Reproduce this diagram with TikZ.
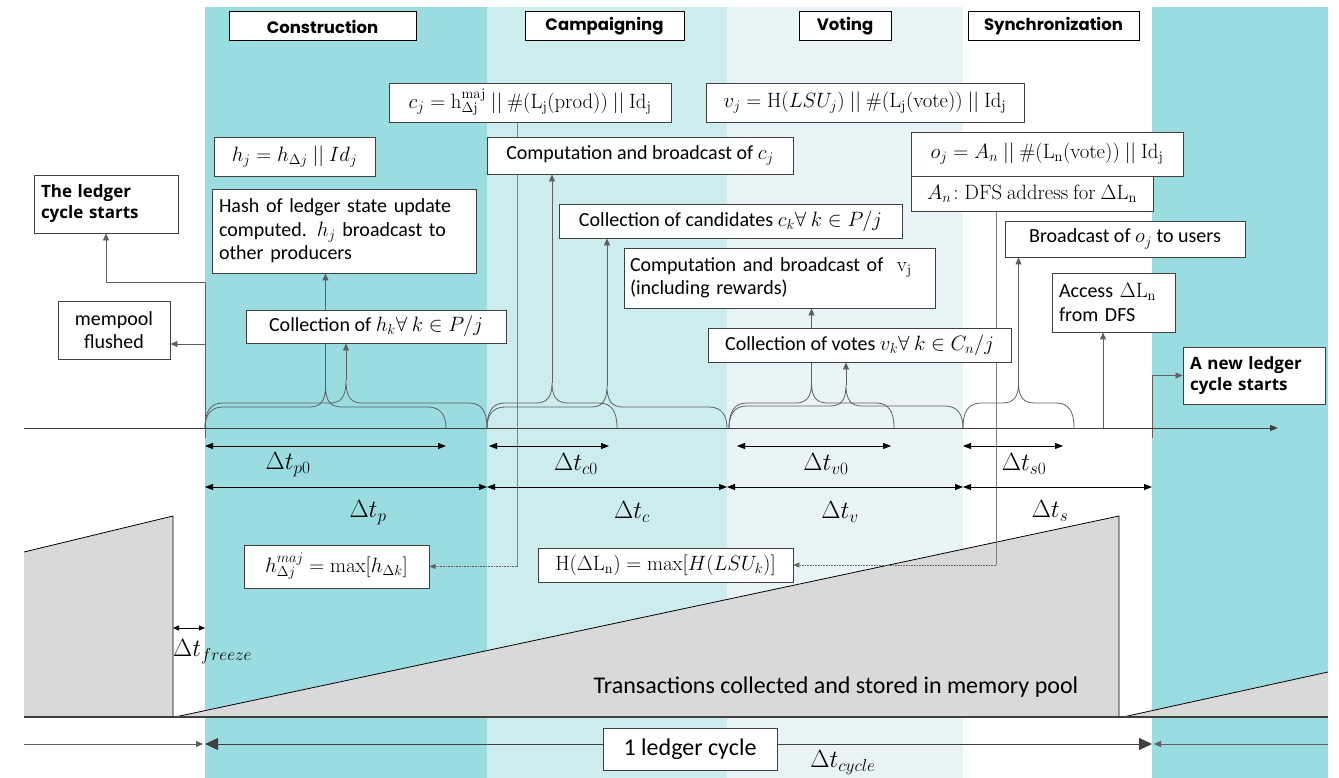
\documentclass[tikz,border=0pt]{standalone}
\usepackage[no-math]{fontspec}
\setmainfont{Carlito}
\newfontfamily\hdrfont{Poppins}
\newfontfamily\bldfont{Open Sans}
\usetikzlibrary{arrows.meta,calc}
\definecolor{bandA}{RGB}{155,220,225}
\definecolor{bandB}{RGB}{205,236,238}
\definecolor{bandC}{RGB}{233,244,246}
\definecolor{tri}{RGB}{217,217,217}
\definecolor{lnc}{RGB}{95,95,95}
\definecolor{boxc}{RGB}{64,64,64}
\pgfdeclarelayer{bg}
\pgfdeclarelayer{cn}
\pgfsetlayers{bg,cn,main}
\newcommand{\bodyf}{\fontsize{20}{23.5}\selectfont}
\newcommand{\mathf}{\fontsize{21.5}{25}\selectfont}
\newcommand{\dtf}{\fontsize{25}{29}\selectfont}
\newcommand{\mybrace}[5]{%
 \pgfmathsetmacro{\bm}{(#1+#2)/2}%
 \draw[brc] (#1,428) .. controls (#1,#3+9) and (#1+5,#3) .. (#1+18,#3)
   -- (\bm-16,#3) .. controls (\bm-5,#3) and (\bm,#3-6) .. (\bm,#4)
   .. controls (\bm,#3-6) and (\bm+5,#3) .. (\bm+16,#3)
   -- (#2-18,#3) .. controls (#2-5,#3) and (#2,#3+9) .. (#2,428);
 \coordinate (#5) at (\bm,#4);
}
\tikzset{
 bx/.style={draw=boxc, fill=white, line width=0.9pt, inner xsep=6pt, inner ysep=2pt, text=black, font=\bodyf},
 mbx/.style={bx, font=\mathf},
 hdr/.style={draw=black, fill=white, line width=1pt, inner sep=2pt, font=\hdrfont\bfseries\fontsize{16.5}{19}\selectfont},
 bbx/.style={bx, align=left, font=\bldfont\bfseries\fontsize{17}{21}\selectfont},
 brc/.style={draw=lnc, line width=0.8pt},
 conn/.style={draw=lnc, line width=0.8pt, -{Triangle[length=7pt,width=6pt]}},
 thinl/.style={draw=lnc!80, line width=0.6pt},
 dotl/.style={draw=lnc, line width=0.6pt, densely dotted, -{Triangle[length=6pt,width=5pt]}},
 dim/.style={draw=black, line width=0.8pt, {Triangle[length=8pt,width=6pt]}-{Triangle[length=8pt,width=6pt]}},
 sdim/.style={draw=black, line width=0.8pt, {Triangle[length=6pt,width=5pt]}-{Triangle[length=6pt,width=5pt]}},
 bigdim/.style={draw=boxc, line width=0.8pt, {Triangle[length=13pt,width=12pt]}-{Triangle[length=13pt,width=12pt]}},
 cyca/.style={draw=lnc, line width=0.8pt, -{Triangle[length=7pt,width=6pt]}},
 lbl/.style={inner sep=0pt, font=\dtf},
}
\begin{document}
\begin{tikzpicture}[x=1pt,y=-1pt]
\useasboundingbox (0,0) rectangle (1339,778);
\begin{pgfonlayer}{bg}
% bands
\fill[bandA] (205,7) rectangle (487,778);
\fill[bandB] (487,7) rectangle (727,778);
\fill[bandC] (727,7) rectangle (963,778);
\fill[bandA] (1152,7) rectangle (1328,778);
% memory pool triangles
\fill[tri] (24,552) -- (173,516) -- (173,717) -- (24,717) -- cycle;
\draw[black, line width=0.8pt] (24,552) -- (173,516) -- (173,717);
\fill[tri] (175,717) -- (1119,516) -- (1119,717) -- cycle;
\draw[black, line width=0.8pt] (175,717) -- (1119,516) -- (1119,717);
\fill[tri] (1123,717) -- (1328,672) -- (1328,717) -- cycle;
\draw[black, line width=0.8pt] (1123,717) -- (1328,672);
\draw[boxc, line width=2pt] (24,717) -- (1328,717);
\end{pgfonlayer}
\node[font=\fontsize{24}{28}\selectfont, inner sep=0pt] (txp) at (836,687) {Transactions collected and stored in memory pool};
% time axis
\coordinate (ax0) at (24,428);
\coordinate (ax1) at (1278,428);
\draw[boxc, line width=0.8pt, -{Triangle[length=8pt,width=6pt]}] (ax0) -- (ax1);
% braces
\mybrace{205}{446}{407}{386}{tP0}
\mybrace{205}{487}{403}{380}{tP}
\mybrace{487}{617}{403}{383}{tC0}
\mybrace{487}{727}{407}{386}{tC}
\mybrace{729}{894}{403}{383}{tV0}
\mybrace{729}{963}{406}{385}{tV}
\mybrace{963}{1074}{403}{383}{tS0}
% header boxes
\node[hdr, minimum width=187, minimum height=29] (hC) at (322.5,26.5) {Construction};
\node[hdr, minimum width=159, minimum height=29] (hCa) at (604.5,26.5) {Campaigning};
\node[hdr, minimum width=92, minimum height=29] (hV) at (845,26.5) {Voting};
\node[hdr, minimum width=171, minimum height=29] (hS) at (1053.5,26.5) {Synchronization};
% boxes
\node[mbx, minimum width=282, minimum height=39] (cjf) at (530,102.5) {$c_j = \mathrm{h}^{\mathrm{maj}}_{\Delta\mathrm{j}}\ ||\ \#(\mathrm{L_j(prod)})\ ||\ \mathrm{Id_j}$};
\node[mbx, minimum width=318, minimum height=39] (vjf) at (865,102.5) {$v_j = \mathrm{H}\big(LSU_j\big)\ ||\ \#(\mathrm{L_j(vote)})\ ||\ \mathrm{Id_j}$};
\node[mbx, minimum width=161, minimum height=39] (hjf) at (294.5,156.5) {$h_j = h_{\Delta j}\ ||\ Id_j$};
\node[bx, minimum width=306, minimum height=37] (cjb) at (640,155.5) {Computation and broadcast of $c_j$};
\node[mbx, minimum width=272, minimum height=44] (ojf) at (1047,154) {$o_j = A_n\ ||\ \#(\mathrm{L_n(vote)})\ ||\ \mathrm{Id_j}$};
\node[mbx, minimum width=242, minimum height=35] (anf) at (1032,193.5) {$A_n\!: \mathrm{DFS\ address\ for\ }\Delta\mathrm{L_n}$};
\node[bbx, minimum width=144, minimum height=58, text width=130] (ledger) at (106,204) {The ledger\\cycle starts};
\node[bx, minimum width=264, minimum height=84, text width=250, align=left] (hash) at (344,231) {Hash of ledger state update computed. $h_j$ broadcast to other producers};
\node[bx, minimum width=343, minimum height=34] (cand) at (730.5,221) {Collection of candidates $c_k\forall\ k\in P/j$};
\node[bx, minimum width=311, minimum height=60, text width=299, align=left] (vjb) at (779.5,278) {Computation and broadcast of \ $\mathrm{v_j}$\\(including rewards)};
\node[bx, minimum width=240, minimum height=36] (ojb) at (1125,239) {Broadcast of $o_j$ to users};
\node[bx, minimum width=123, minimum height=59, text width=109, align=left] (acc) at (1113.5,302.5) {Access $\Delta\mathrm{L_n}$\\from DFS};
\node[bx, minimum width=303, minimum height=34] (votes) at (859.5,345) {Collection of votes $v_k\forall\ k\in C_n/j$};
\node[bbx, minimum width=142, minimum height=57, text width=128] (newl) at (1254,375.5) {A new ledger\\cycle starts};
\node[bx, minimum width=112, minimum height=58, align=center] (mem) at (114,330) {mempool\\flushed};
\node[bx, minimum width=260, minimum height=33] (hk) at (376,326.5) {Collection of $h_k\forall\ k\in P/j$};
\node[mbx, minimum width=185, minimum height=43] (hmaj) at (336.5,566.5) {$h^{maj}_{\Delta j} = \max[h_{\Delta k}]$};
\node[mbx, minimum width=255, minimum height=34] (hdl) at (665.5,565) {$\mathrm{H}(\Delta\mathrm{L_n}) = \max[H(LSU_k)]$};
\node[bx, minimum width=174, minimum height=42, font=\fontsize{24}{28}\selectfont] (cyc) at (690,749) {1 ledger cycle};
% connectors (layer below the boxes)
\begin{pgfonlayer}{cn}
\draw[conn] (tP0) -- (tP0 |- hash.south);
\draw[conn] (tP) -- (tP |- hk.south);
\draw[conn] (tC0) -- (tC0 |- cjb.south);
\draw[conn] (tC) -- (tC |- cand.south);
\draw[conn] (tV0) -- (tV0 |- vjb.south);
\draw[conn] (tV) -- (tV |- votes.south);
\draw[conn] (tS0) -- (tS0 |- ojb.south);
\coordinate (av) at (1103,428);
\draw[conn] (av) -- (av |- acc.south);
\coordinate (lv) at (205,438);
\coordinate (lc) at (205,282);
\draw[conn] (lv) -- (lc) -| (ledger.south);
\coordinate (mf) at (205,344);
\draw[conn] (mf) -- (mf -| mem.east);
\coordinate (rv) at (1152,438);
\draw[conn] (rv) |- (newl.west);
\coordinate (cjl) at (517,566.5);
\draw[thinl] (cjf.south -| cjl) -- (cjl);
\draw[dotl] (cjl) -- (hmaj.east);
\coordinate (anl) at (996,565);
\draw[thinl] (anf.south -| anl) -- (anl);
\draw[dotl] (anl) -- (hdl.east);
% bottom cycle arrows
\coordinate (b0) at (24,744);
\coordinate (b1) at (203,744);
\coordinate (b2) at (205,744);
\coordinate (b3) at (1152,744);
\coordinate (b4) at (1154,744);
\coordinate (b5) at (1328,744);
\draw[cyca] (b0) -- (b1);
\draw[bigdim] (b2) -- (b3);
\draw[cyca] (b5) -- (b4);
\end{pgfonlayer}
% dimension lines
\draw[dim] (205,446) -- (446,446);
\draw[dim] (489,446) -- (609,446);
\draw[dim] (737,446) -- (891,446);
\draw[dim] (963,446) -- (1063,446);
\draw[dim] (205,487) -- (487,487);
\draw[dim] (487,487) -- (727,487);
\draw[dim] (727,487) -- (963,487);
\draw[dim] (963,487) -- (1152,487);
\draw[sdim] (173,628) -- (205,628);
% dimension labels
\node[lbl] (lp0) at (288,465) {$\Delta t_{p0}$};
\node[lbl] (lc0) at (576,464) {$\Delta t_{c0}$};
\node[lbl] (lv0) at (826,464) {$\Delta t_{v0}$};
\node[lbl] (ls0) at (1024,464) {$\Delta t_{s0}$};
\node[lbl] (lpp) at (368,513) {$\Delta t_{p}$};
\node[lbl] (lcc) at (632,512) {$\Delta t_{c}$};
\node[lbl] (lvv) at (840,512) {$\Delta t_{v}$};
\node[lbl] (lss) at (1050,511) {$\Delta t_{s}$};
\node[lbl, anchor=west] (lfr) at (173,652) {$\Delta t_{freeze}$};
\node[lbl] (lcy) at (843,763) {$\Delta t_{cycle}$};
\end{tikzpicture}
\end{document}
